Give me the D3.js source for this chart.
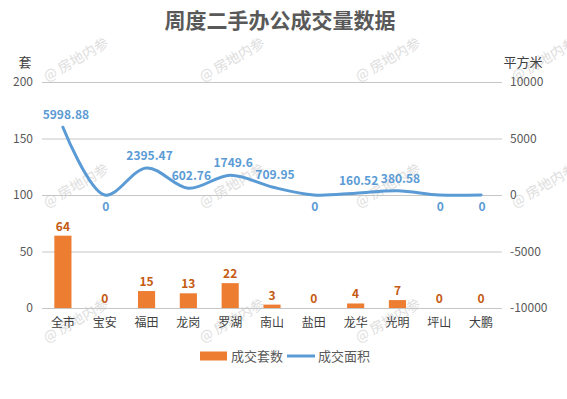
<!DOCTYPE html>
<html>
<head>
<meta charset="utf-8">
<script src="https://cdn.jsdelivr.net/npm/d3@7"></script>
<style>
  body { margin: 0; background: #fff; }
  svg text { font-family: "Microsoft YaHei", "Noto Sans CJK SC", sans-serif; }
</style>
</head>
<body>
<script>
// chart data
const districts = ["全市", "宝安", "福田", "龙岗", "罗湖", "南山", "盐田", "龙华", "光明", "坪山", "大鹏"];
const dealCount = [64, 0, 15, 13, 22, 3, 0, 4, 7, 0, 0];
const dealArea = [5998.88, 0, 2395.47, 602.76, 1749.6, 709.95, 0, 160.52, 380.58, 0, 0];
const leftTicks = [0, 50, 100, 150, 200];
const rightTicks = [-10000, -5000, 0, 5000, 10000];

const width = 567, height = 399;
const margin = { top: 82, right: 65, bottom: 91, left: 42 };

const svg = d3.select("body").append("svg")
    .attr("width", width)
    .attr("height", height);

// faint watermark
const marks = [];
[82, 208, 343].forEach((y, r) => {
    [47, 203, 359, 515].forEach(x => {
        if (!(r === 2 && x === 515)) marks.push([x, y]);
    });
});
svg.append("g").selectAll("text")
    .data(marks)
    .enter().append("text")
    .attr("transform", d => `translate(${d[0]},${d[1]}) rotate(-30)`)
    .style("font-size", "14px")
    .attr("fill", "#dedede")
    .text("@ 房地内参");

// scales
const x = d3.scaleBand()
    .domain(districts)
    .range([margin.left, width - margin.right]);

const yLeft = d3.scaleLinear()
    .domain([0, 200])
    .range([height - margin.bottom, margin.top]);

const yRight = d3.scaleLinear()
    .domain([-10000, 10000])
    .range([height - margin.bottom, margin.top]);

const plotW = width - margin.right - margin.left;

// gridlines + left axis
const gLeft = svg.append("g")
    .attr("transform", `translate(${margin.left},0)`)
    .call(d3.axisLeft(yLeft).tickValues(leftTicks).tickSize(-plotW).tickPadding(9));
gLeft.select(".domain").remove();
gLeft.selectAll("line").attr("stroke", "#c6c6c6");
gLeft.selectAll("text").attr("fill", "#595959").style("font-size", "12px");

// right axis
const gRight = svg.append("g")
    .attr("transform", `translate(${width - margin.right},0)`)
    .call(d3.axisRight(yRight).tickValues(rightTicks).tickSize(0).tickPadding(8)
        .tickFormat(d => String(d)));
gRight.select(".domain").remove();
gRight.selectAll("text").attr("fill", "#595959").style("font-size", "12px");

// x axis labels
const gX = svg.append("g")
    .attr("transform", `translate(0,${height - margin.bottom})`)
    .call(d3.axisBottom(x).tickSize(0).tickPadding(10));
gX.select(".domain").remove();
gX.selectAll("text").attr("fill", "#404040").style("font-size", "12px");

// bars
const barW = x.bandwidth() * 0.41;
svg.selectAll("rect.bar")
    .data(dealCount)
    .enter().append("rect")
    .attr("class", "bar")
    .attr("x", (d, i) => x(districts[i]) + x.bandwidth() / 2 - barW / 2)
    .attr("y", d => yLeft(d))
    .attr("width", barW)
    .attr("height", d => yLeft(0) - yLeft(d))
    .attr("fill", "#ED7D31");

svg.selectAll("text.barlabel")
    .data(dealCount)
    .enter().append("text")
    .attr("class", "barlabel")
    .attr("x", (d, i) => x(districts[i]) + x.bandwidth() / 2)
    .attr("y", d => yLeft(d) - 5)
    .attr("text-anchor", "middle")
    .attr("fill", "#C55A11")
    .style("font-size", "12px")
    .style("font-weight", "bold")
    .text(d => d);

// area line
const line = d3.line()
    .x((d, i) => x(districts[i]) + x.bandwidth() / 2)
    .y(d => yRight(d))
    .curve(d3.curveCatmullRom.alpha(0.5));

svg.append("path")
    .datum(dealArea)
    .attr("d", line)
    .attr("fill", "none")
    .attr("stroke", "#5B9BD5")
    .attr("stroke-width", 3)
    .attr("stroke-linecap", "round");

svg.selectAll("text.linelabel")
    .data(dealArea)
    .enter().append("text")
    .attr("class", "linelabel")
    .attr("x", (d, i) => x(districts[i]) + x.bandwidth() / 2 + (d === 0 ? 1 : 3))
    .attr("y", d => yRight(d) + (d === 0 ? 16 : -8))
    .attr("text-anchor", "middle")
    .attr("fill", "#5B9BD5")
    .style("font-size", "12px")
    .style("font-weight", "bold")
    .text(d => d);

// title
svg.append("text")
    .attr("x", 280)
    .attr("y", 28)
    .attr("text-anchor", "middle")
    .attr("fill", "#595959")
    .style("font-size", "21px")
    .style("font-weight", "bold")
    .text("周度二手办公成交量数据");

// axis titles
svg.append("text")
    .attr("x", 25).attr("y", 67)
    .attr("text-anchor", "middle")
    .attr("fill", "#404040")
    .style("font-size", "13px")
    .text("套");
svg.append("text")
    .attr("x", 523).attr("y", 67)
    .attr("text-anchor", "middle")
    .attr("fill", "#404040")
    .style("font-size", "13px")
    .text("平方米");

// legend
const legend = svg.append("g").attr("transform", "translate(200,356)");
legend.append("rect")
    .attr("x", 0).attr("y", -4.5)
    .attr("width", 27).attr("height", 9)
    .attr("fill", "#ED7D31");
legend.append("text")
    .attr("x", 31).attr("y", 5)
    .attr("fill", "#595959")
    .style("font-size", "13px")
    .text("成交套数");
legend.append("line")
    .attr("x1", 87).attr("x2", 115)
    .attr("y1", 0).attr("y2", 0)
    .attr("stroke", "#5B9BD5")
    .attr("stroke-width", 3);
legend.append("text")
    .attr("x", 118).attr("y", 5)
    .attr("fill", "#595959")
    .style("font-size", "13px")
    .text("成交面积");
</script>
</body>
</html>
